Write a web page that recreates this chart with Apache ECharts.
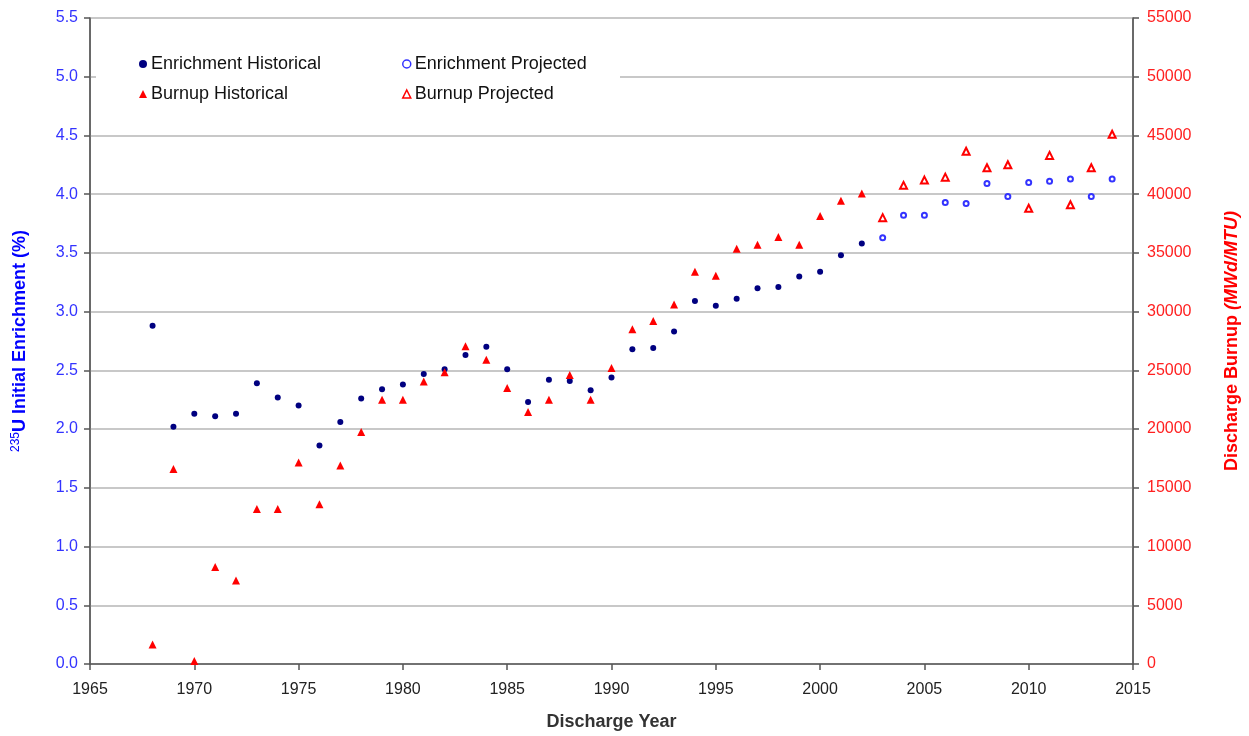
<!DOCTYPE html>
<html>
<head>
<meta charset="utf-8">
<title>Enrichment and Burnup</title>
<script src="https://cdn.jsdelivr.net/npm/echarts@6/dist/echarts.min.js"></script>
<style>
  html, body { margin: 0; padding: 0; background: #ffffff; }
  #chart { width: 1249px; height: 736px; }
</style>
</head>
<body>
<div id="chart"></div>
<script>
// 年份
const histYears = [1968, 1969, 1970, 1971, 1972, 1973, 1974, 1975, 1976, 1977, 1978, 1979, 1980, 1981, 1982, 1983, 1984, 1985,
  1986, 1987, 1988, 1989, 1990, 1991, 1992, 1993, 1994, 1995, 1996, 1997, 1998, 1999, 2000, 2001, 2002]
const projYears = [2003, 2004, 2005, 2006, 2007, 2008, 2009, 2010, 2011, 2012, 2013, 2014]

// 富集度 (%)
const enrichHist = [2.88, 2.02, 2.13, 2.11, 2.13, 2.39, 2.27, 2.20, 1.86, 2.06, 2.26, 2.34, 2.38, 2.47, 2.51, 2.63, 2.70, 2.51,
  2.23, 2.42, 2.41, 2.33, 2.44, 2.68, 2.69, 2.83, 3.09, 3.05, 3.11, 3.20, 3.21, 3.30, 3.34, 3.48, 3.58]
const enrichProj = [3.63, 3.82, 3.82, 3.93, 3.92, 4.09, 3.98, 4.10, 4.11, 4.13, 3.98, 4.13]

// 燃耗 (MWd/MTU)
const burnHist = [1650, 16600, 250, 8250, 7100, 13200, 13200, 17150, 13600, 16900, 19750, 22500, 22500, 24050, 24850, 27050, 25900, 23500,
  21450, 22500, 24600, 22500, 25200, 28500, 29200, 30600, 33400, 33050, 35350, 35700, 36350, 35700, 38150, 39450, 40050]
const burnProj = [38000, 40750, 41200, 41450, 43650, 42250, 42500, 38800, 43300, 39100, 42250, 45100]

// 坐标轴刻度
const xTicks = { min: 1965, max: 2015, interval: 5 }
const leftTicks = { min: 0, max: 5.5, interval: 0.5 }
const rightTicks = { min: 0, max: 55000, interval: 5000 }

const pair = (xs, ys) => xs.map((x, i) => [x, ys[i]])

const font = 'Liberation Sans, Arial, sans-serif'
const axisColor = '#555555'
const navy = '#000080'
const blue = '#3333ff'
const red = '#ff0000'

const myChart = echarts.init(document.getElementById('chart'))

// 图例（两列）
const legendBase = {
  orient: 'vertical',
  top: 50,
  itemGap: 12,
  itemWidth: 8,
  itemHeight: 8,
  textStyle: { fontSize: 18, color: '#111111', fontFamily: font, padding: [0, 0, 0, -1] }
}

const options = {
  backgroundColor: '#ffffff',
  textStyle: { fontFamily: font },
  animation: false,
  grid: {
    left: 90,
    right: 113,
    top: 18,
    bottom: 66,
    show: true,
    borderColor: axisColor,
    borderWidth: 1
  },
  legend: [
    Object.assign({}, legendBase, {
      left: 134,
      data: [
        { name: 'Enrichment Historical', icon: 'circle' },
        { name: 'Burnup Historical', icon: 'triangle' }
      ]
    }),
    Object.assign({}, legendBase, {
      left: 397,
      data: [
        { name: 'Enrichment Projected', icon: 'circle', itemStyle: { color: '#ffffff', borderColor: blue, borderWidth: 1.5, opacity: 1 } },
        { name: 'Burnup Projected', icon: 'triangle', itemStyle: { color: '#ffffff', borderColor: red, borderWidth: 1.5, opacity: 1 } }
      ]
    })
  ],
  graphic: [{
    type: 'rect',
    z: 1,
    shape: { x: 96, y: 42, width: 524, height: 70 },
    style: { fill: '#ffffff' }
  }],
  xAxis: {
    type: 'value',
    min: xTicks.min,
    max: xTicks.max,
    interval: xTicks.interval,
    name: 'Discharge Year',
    nameLocation: 'middle',
    nameGap: 49,
    nameTextStyle: { fontSize: 18, fontWeight: 'bold', color: '#333333', fontFamily: font },
    axisLine: { lineStyle: { color: axisColor, width: 1.5 } },
    axisTick: { inside: false, length: 6, lineStyle: { color: axisColor, width: 1.5 } },
    axisLabel: { fontSize: 16, color: '#222222', margin: 18, fontFamily: font, formatter: v => String(v) },
    splitLine: { show: false }
  },
  yAxis: [
    {
      type: 'value',
      position: 'left',
      min: leftTicks.min,
      max: leftTicks.max,
      interval: leftTicks.interval,
      name: '{sup|235}{b|U Initial Enrichment (%)}',
      nameLocation: 'middle',
      nameGap: 60,
      nameTextStyle: {
        rich: {
          sup: { fontSize: 12, color: '#0000ff', fontFamily: font, verticalAlign: 'top', padding: [0, 0, 8, 0] },
          b: { fontSize: 18, fontWeight: 'bold', color: '#0000ff', fontFamily: font }
        }
      },
      axisLine: { show: true, lineStyle: { color: axisColor, width: 1.5 } },
      axisTick: { show: true, length: 6, lineStyle: { color: axisColor, width: 1.5 } },
      axisLabel: {
        fontSize: 16,
        color: blue,
        margin: 12,
        fontFamily: font,
        formatter: v => v.toFixed(1)
      },
      splitLine: { show: true, lineStyle: { color: '#c8c8c8', width: 2 } }
    },
    {
      type: 'value',
      position: 'right',
      min: rightTicks.min,
      max: rightTicks.max,
      interval: rightTicks.interval,
      name: '{b|Discharge Burnup }{i|(MWd/MTU)}',
      nameLocation: 'middle',
      nameGap: 90,
      nameTextStyle: {
        rich: {
          b: { fontSize: 18, fontWeight: 'bold', color: red, fontFamily: font },
          i: { fontSize: 18, fontWeight: 'bold', fontStyle: 'italic', color: red, fontFamily: font }
        }
      },
      axisLine: { show: true, lineStyle: { color: axisColor, width: 1.5 } },
      axisTick: { show: true, length: 6, lineStyle: { color: axisColor, width: 1.5 } },
      axisLabel: { fontSize: 16, color: '#ff2020', margin: 14, fontFamily: font, formatter: v => String(v) },
      splitLine: { show: false }
    }
  ],
  series: [
    {
      name: 'Enrichment Historical',
      type: 'scatter',
      yAxisIndex: 0,
      symbol: 'circle',
      symbolSize: 6,
      itemStyle: { color: navy, opacity: 1 },
      data: pair(histYears, enrichHist)
    },
    {
      name: 'Enrichment Projected',
      type: 'scatter',
      yAxisIndex: 0,
      symbol: 'emptyCircle',
      symbolSize: 5,
      itemStyle: { color: blue, borderColor: blue, borderWidth: 1.5, opacity: 1 },
      data: pair(projYears, enrichProj)
    },
    {
      name: 'Burnup Historical',
      type: 'scatter',
      yAxisIndex: 1,
      symbol: 'triangle',
      symbolSize: 8,
      itemStyle: { color: red, opacity: 1 },
      data: pair(histYears, burnHist)
    },
    {
      name: 'Burnup Projected',
      type: 'scatter',
      yAxisIndex: 1,
      symbol: 'emptyTriangle',
      symbolSize: 7,
      itemStyle: { color: red, borderColor: red, borderWidth: 1.5, opacity: 1 },
      data: pair(projYears, burnProj)
    }
  ]
}

myChart.setOption(options)
</script>
</body>
</html>
